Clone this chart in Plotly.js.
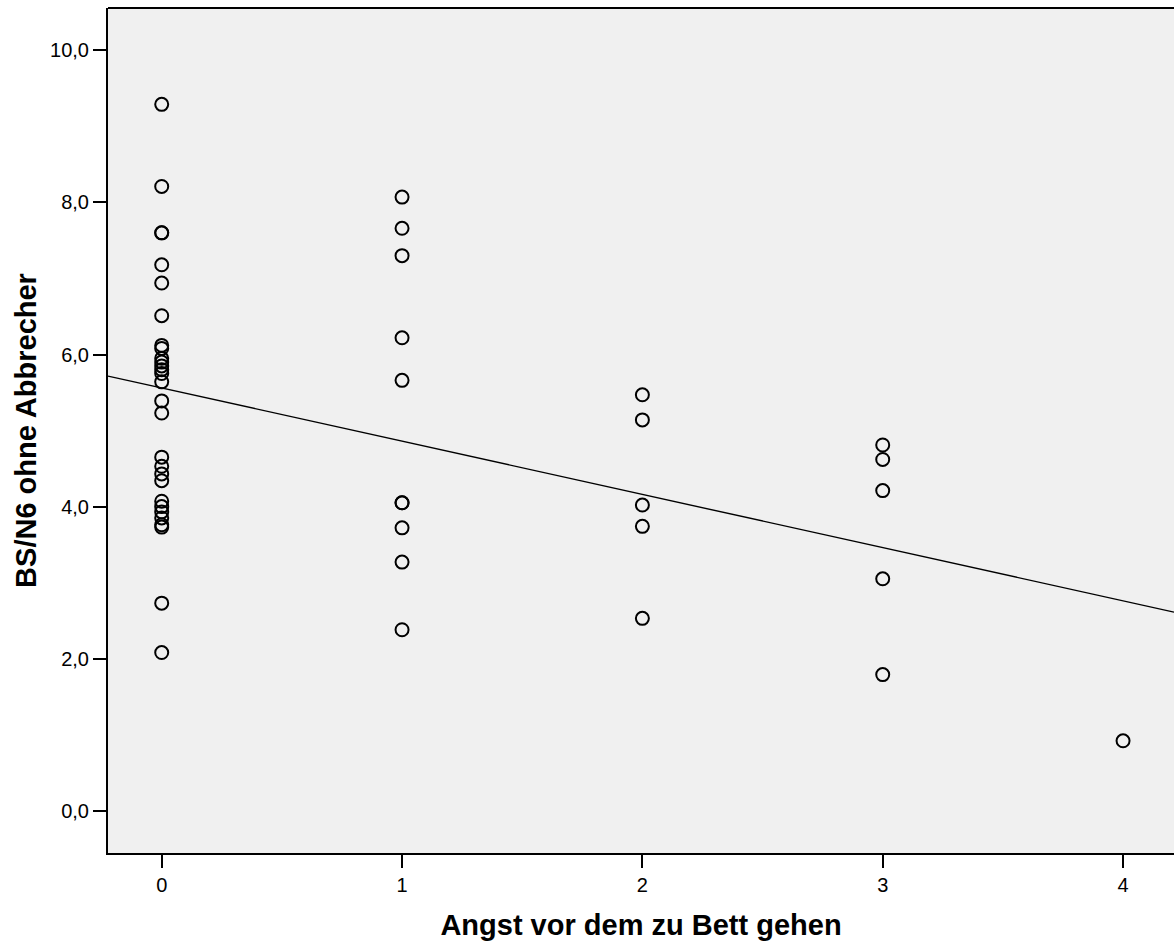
<!DOCTYPE html>
<html>
<head>
<meta charset="utf-8">
<script src="https://cdn.plot.ly/plotly-3.0.1.min.js"></script>
<style>html,body{margin:0;padding:0;background:#fff;}#chart{width:1174px;height:942px;}</style>
</head>
<body>
<div id="chart"></div>
<script>
// Data
const angst0 = [9.29, 8.21, 7.60, 7.60, 7.18, 6.94, 6.51, 6.12, 6.08, 5.95, 5.90, 5.85, 5.80, 5.75, 5.64, 5.39, 5.23, 4.65, 4.53, 4.43, 4.34, 4.07, 4.00, 3.93, 3.85, 3.76, 3.73, 2.73, 2.08];
const angst1 = [8.07, 7.66, 7.30, 6.22, 5.66, 4.05, 4.05, 3.72, 3.27, 2.38];
const angst2 = [5.47, 5.14, 4.02, 3.74, 2.53];
const angst3 = [4.81, 4.62, 4.21, 3.05, 1.79];
const angst4 = [0.92];
const groups = [0, 1, 2, 3, 4];
const xTicks = [0, 1, 2, 3, 4];
const yTicks = [0, 2, 4, 6, 8, 10];
// Fit line coefficients
const fitIntercept = 5.56;
const fitSlope = -0.70;

const xRange = [-0.2235, 4.212];
const yRange = [-0.556, 10.557];

const series = [angst0, angst1, angst2, angst3, angst4];
const xs = [], ys = [];
series.forEach((vals, i) => vals.forEach(v => { xs.push(groups[i]); ys.push(v); }));

const traces = [
  {
    type: 'scatter', mode: 'markers', x: xs, y: ys,
    marker: {symbol: 'circle-open', size: 13, color: '#000', line: {color: '#000', width: 2}},
    hoverinfo: 'x+y', showlegend: false
  },
  {
    type: 'scatter', mode: 'lines',
    x: [xRange[0], xRange[1]],
    y: [fitIntercept + fitSlope * xRange[0], fitIntercept + fitSlope * xRange[1]],
    line: {color: '#000', width: 1.4}, hoverinfo: 'skip', showlegend: false
  }
];

const font = {family: '"Liberation Sans", Arial, sans-serif', color: '#000'};

const layout = {
  width: 1174, height: 942,
  margin: {l: 108, r: 0, t: 8, b: 89},
  paper_bgcolor: '#ffffff',
  plot_bgcolor: '#f0f0f0',
  separators: ',.',
  font: font,
  showlegend: false,
  xaxis: {
    range: xRange, tickvals: xTicks, ticktext: xTicks.map(String),
    showgrid: false, zeroline: false,
    showline: true, linecolor: '#000', linewidth: 2,
    ticks: 'outside', ticklen: 13, tickwidth: 2, tickcolor: '#000',
    tickfont: {family: font.family, size: 20, color: '#000'},
    title: {text: 'Angst vor dem zu Bett gehen', font: {family: font.family, size: 29, color: '#000', weight: 'bold'}, standoff: 20},
    automargin: false, fixedrange: true
  },
  yaxis: {
    range: yRange, tickvals: yTicks, tickformat: '.1f',
    showgrid: false, zeroline: false,
    showline: true, linecolor: '#000', linewidth: 2,
    ticks: 'outside', ticklen: 13, tickwidth: 2, tickcolor: '#000',
    tickfont: {family: font.family, size: 20, color: '#000'},
    title: {text: 'BS/N6 ohne Abbrecher', font: {family: font.family, size: 29, color: '#000', weight: 'bold'}, standoff: 5},
    automargin: false, fixedrange: true
  },
  shapes: [
    {type: 'line', xref: 'paper', yref: 'paper', x0: 0, x1: 1, y0: 1, y1: 1, line: {color: '#000', width: 2}}
  ]
};

Plotly.newPlot('chart', traces, layout, {displayModeBar: false, staticPlot: true});
</script>
</body>
</html>
